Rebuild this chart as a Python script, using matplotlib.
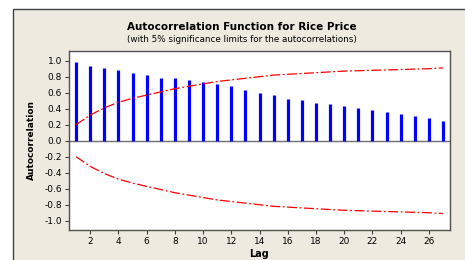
import numpy as np
import matplotlib
matplotlib.use("Agg")
import matplotlib.pyplot as plt
from matplotlib.patches import Rectangle

# ── Data ──────────────────────────────────────────────────────────────────
lags = list(range(1, 28))
acf = [0.98, 0.94, 0.91, 0.88, 0.846, 0.817, 0.79, 0.78, 0.755, 0.734,
       0.71, 0.68, 0.64, 0.60, 0.571, 0.525, 0.505, 0.475, 0.455, 0.43,
       0.409, 0.384, 0.359, 0.338, 0.309, 0.288, 0.246]
upper_limit = [0.20, 0.32, 0.41, 0.48, 0.53, 0.57, 0.61, 0.65, 0.68, 0.71,
               0.74, 0.76, 0.78, 0.80, 0.82, 0.83, 0.84, 0.85, 0.86, 0.87,
               0.875, 0.88, 0.885, 0.89, 0.895, 0.90, 0.91]
xticks = list(range(2, 27, 2))
yticks = [-1.0, -0.8, -0.6, -0.4, -0.2, 0.0, 0.2, 0.4, 0.6, 0.8, 1.0]

BG = "#EEEAE0"

plt.rcParams.update({
    "font.family": "DejaVu Sans",
    "font.size": 6.5,
})

fig = plt.figure(figsize=(4.65, 2.6), dpi=100)
fig.patch.set_facecolor("white")
# beige panel with dark frame, bleeding off right/bottom edges
fig.patches.append(Rectangle((13 / 465, -0.05), 1.0, 1 - 9 / 260 + 0.05,
                             transform=fig.transFigure, facecolor=BG,
                             edgecolor="#404040", linewidth=1.0, zorder=-5))

ax = fig.add_axes([69 / 465, 1 - 230 / 260, (450 - 69) / 465, (230 - 50.7) / 260])
ax.set_zorder(2)
ax.set_facecolor("white")

ax.vlines(lags, 0, acf, color="#0000FF", linewidth=2.3, zorder=3)
ax.axhline(0, color="#707070", linewidth=1.0, zorder=2)
lim = np.array(upper_limit)
ax.plot(lags, lim, color="#FF0000", linestyle=(0, (8, 2, 1.5, 2)), linewidth=0.9, zorder=4)
ax.plot(lags, -lim, color="#FF0000", linestyle=(0, (8, 2, 1.5, 2)), linewidth=0.9, zorder=4)

ax.set_xlim(0.5, 27.5)
ax.set_ylim(-1.116, 1.125)
ax.set_xticks(xticks)
ax.set_yticks(yticks)
ax.set_yticklabels([f"{v:.1f}" for v in yticks])
ax.tick_params(length=3, width=0.8, color="#404040", labelsize=6.5, pad=2)
for s in ax.spines.values():
    s.set_color("#505050")
    s.set_linewidth(1.0)

ax.set_xlabel("Lag", fontweight="bold", fontsize=7, labelpad=2)
ax.set_ylabel("Autocorrelation", fontweight="bold", fontsize=6.5, labelpad=6)

fig.text(0.5 + 0.02, 1 - 27 / 260, "Autocorrelation Function for Rice Price",
         ha="center", va="center", fontweight="bold", fontsize=7.5)
fig.text(0.5 + 0.02, 1 - 39 / 260, "(with 5% significance limits for the autocorrelations)",
         ha="center", va="center", fontsize=6.3)

fig.savefig("out.png", dpi=100, facecolor=fig.get_facecolor())
